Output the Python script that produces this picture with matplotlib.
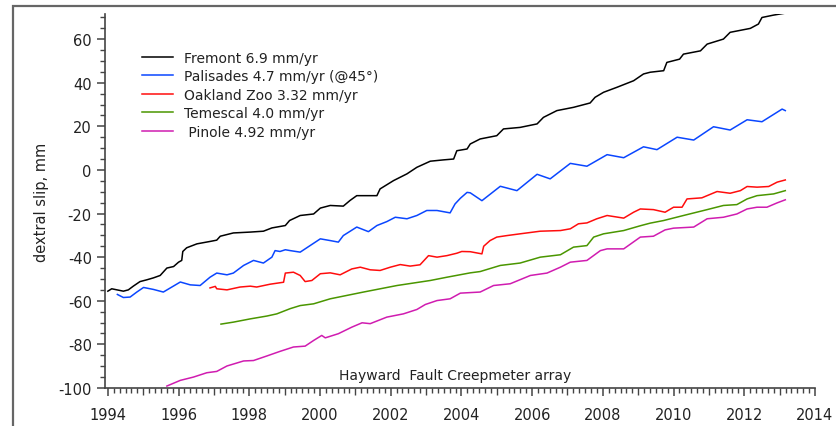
# Hayward Fault creepmeter array - dextral slip vs time
# Values

import numpy as np
import matplotlib.pyplot as plt
from matplotlib.ticker import MultipleLocator
from matplotlib.patches import Rectangle

plt.rcParams['axes.unicode_minus'] = False

# Fremont 6.9 mm/yr
fremont_t = [1994.0, 1994.11, 1994.44, 1994.58, 1994.72, 1994.91, 1995.10, 1995.29,
             1995.48, 1995.67, 1995.86, 1996.0, 1996.09, 1996.12, 1996.23, 1996.52,
             1996.89, 1997.08, 1997.18, 1997.55, 1998.03, 1998.40, 1998.64, 1999.02,
             1999.14, 1999.44, 1999.82, 2000.01, 2000.29, 2000.66, 2000.85, 2001.04,
             2001.61, 2001.70, 2002.08, 2002.46, 2002.74, 2003.12, 2003.49, 2003.78,
             2003.87, 2004.16, 2004.25, 2004.53, 2005.0, 2005.19, 2005.66, 2006.14,
             2006.32, 2006.70, 2007.17, 2007.64, 2007.78, 2008.02, 2008.40, 2008.87,
             2009.15, 2009.34, 2009.72, 2009.81, 2010.17, 2010.28, 2010.76, 2010.95,
             2011.41, 2011.60, 2012.17, 2012.40, 2012.50, 2012.83, 2013.16]
fremont_v = [-55.6, -54.5, -55.6, -55.0, -53.3, -51.2, -50.4, -49.5,
             -48.4, -45.0, -44.3, -42.3, -41.5, -37.4, -35.7, -33.9,
             -32.8, -32.2, -30.4, -28.9, -28.5, -28.1, -26.6, -25.5,
             -23.2, -20.9, -20.2, -17.5, -16.3, -16.6, -14.0, -11.8,
             -11.8, -8.7, -4.9, -1.8, 1.2, 4.0, 4.6, 5.0,
             8.8, 9.6, 11.9, 14.2, 15.7, 18.8, 19.5, 21.1,
             24.1, 27.2, 28.7, 30.7, 33.3, 35.6, 37.9, 40.9,
             44.0, 44.8, 45.5, 49.3, 50.8, 53.1, 54.6, 57.7,
             60.0, 63.1, 64.9, 66.9, 69.9, 71.0, 71.9]

# Palisades 4.7 mm/yr (@45 deg)
palisades_t = [1994.27, 1994.44, 1994.63, 1994.82, 1995.01, 1995.29, 1995.57, 1995.81,
               1996.05, 1996.33, 1996.61, 1996.89, 1997.08, 1997.37, 1997.55, 1997.84,
               1998.12, 1998.40, 1998.64, 1998.73, 1998.87, 1999.02, 1999.16, 1999.44,
               1999.72, 2000.01, 2000.29, 2000.52, 2000.66, 2001.04, 2001.37, 2001.61,
               2001.89, 2002.13, 2002.46, 2002.74, 2003.02, 2003.31, 2003.68, 2003.82,
               2003.97, 2004.16, 2004.25, 2004.58, 2005.10, 2005.57, 2006.14, 2006.51,
               2007.08, 2007.55, 2008.12, 2008.59, 2009.15, 2009.53, 2010.10, 2010.57,
               2011.13, 2011.60, 2012.08, 2012.50, 2013.07, 2013.16]
palisades_v = [-57.1, -58.5, -58.3, -56.0, -53.9, -54.8, -56.0, -53.7,
               -51.4, -52.7, -53.0, -49.2, -47.3, -48.1, -47.3, -43.8,
               -41.5, -42.7, -40.0, -37.0, -37.4, -36.6, -37.0, -37.7,
               -34.7, -31.6, -32.4, -33.1, -30.1, -26.2, -28.3, -25.5,
               -23.7, -21.7, -22.4, -20.9, -18.6, -18.6, -19.7, -15.6,
               -13.0, -10.3, -10.5, -14.1, -7.5, -9.5, -2.0, -4.1,
               3.0, 1.7, 7.0, 5.6, 10.6, 9.3, 15.0, 13.7,
               19.8, 18.3, 23.0, 22.1, 27.9, 27.2]

# Oakland Zoo 3.32 mm/yr
zoo_t = [1996.89, 1997.04, 1997.08, 1997.37, 1997.74, 1998.03, 1998.21, 1998.59,
         1998.97, 1999.02, 1999.25, 1999.44, 1999.58, 1999.77, 2000.01, 2000.29,
         2000.57, 2000.90, 2001.14, 2001.42, 2001.70, 2001.99, 2002.27, 2002.55,
         2002.83, 2003.07, 2003.31, 2003.59, 2003.87, 2004.01, 2004.25, 2004.58,
         2004.63, 2004.81, 2005.0, 2005.29, 2005.66, 2006.23, 2006.80, 2007.08,
         2007.31, 2007.55, 2007.83, 2008.12, 2008.59, 2008.87, 2009.06, 2009.43,
         2009.76, 2010.0, 2010.24, 2010.38, 2010.80, 2011.23, 2011.60, 2011.89,
         2012.08, 2012.36, 2012.69, 2012.93, 2013.16]
zoo_v = [-54.1, -53.4, -54.5, -55.0, -53.7, -53.3, -53.7, -52.4,
         -51.5, -47.3, -46.9, -48.4, -51.2, -50.7, -47.6, -47.2,
         -48.1, -45.4, -44.6, -45.8, -46.1, -44.6, -43.4, -44.1,
         -43.5, -39.3, -40.0, -39.3, -38.2, -37.4, -37.5, -38.5,
         -35.0, -32.4, -30.8, -30.1, -29.3, -28.1, -27.8, -27.0,
         -24.7, -24.3, -22.4, -20.9, -22.1, -19.4, -17.9, -18.2,
         -19.4, -17.1, -17.1, -13.3, -12.8, -9.9, -10.7, -9.5,
         -7.6, -7.9, -7.6, -5.6, -4.6]

# Temescal 4.0 mm/yr
temescal_t = [1997.20, 1997.55, 1998.03, 1998.50, 1998.78, 1999.16, 1999.44, 1999.82,
              2000.29, 2001.23, 2002.18, 2003.12, 2003.59, 2004.25, 2004.53, 2005.10,
              2005.66, 2006.23, 2006.80, 2007.17, 2007.55, 2007.74, 2008.02, 2008.59,
              2009.06, 2009.34, 2009.72, 2010.28, 2010.95, 2011.41, 2011.79, 2012.08,
              2012.36, 2012.83, 2013.16]
temescal_v = [-70.7, -69.8, -68.3, -67.0, -66.0, -63.6, -62.2, -61.4,
              -59.1, -56.0, -53.0, -50.7, -49.2, -47.2, -46.6, -43.8,
              -42.7, -40.0, -38.9, -35.4, -34.7, -30.8, -29.3, -27.8,
              -25.6, -24.4, -23.2, -20.9, -18.2, -16.3, -15.9, -13.3,
              -11.8, -11.0, -9.5]

# Pinole 4.92 mm/yr
pinole_t = [1995.67, 1996.05, 1996.42, 1996.80, 1997.08, 1997.37, 1997.84, 1998.12,
            1998.50, 1998.87, 1999.25, 1999.58, 1999.82, 2000.05, 2000.15, 2000.52,
            2000.90, 2001.19, 2001.42, 2001.89, 2002.36, 2002.74, 2002.98, 2003.31,
            2003.68, 2003.97, 2004.53, 2004.91, 2005.38, 2005.95, 2006.42, 2006.80,
            2007.08, 2007.55, 2007.93, 2008.12, 2008.59, 2009.06, 2009.43, 2009.76,
            2010.0, 2010.57, 2010.95, 2011.41, 2011.79, 2012.08, 2012.36, 2012.64,
            2012.93, 2013.16]
pinole_v = [-99.1, -96.5, -95.0, -93.0, -92.4, -89.9, -87.6, -87.4,
            -85.3, -83.2, -81.2, -80.8, -78.2, -75.9, -77.0, -75.1,
            -72.1, -70.1, -70.5, -67.5, -66.0, -64.0, -61.7, -59.9,
            -59.1, -56.5, -56.0, -53.0, -52.2, -48.4, -47.3, -44.6,
            -42.3, -41.5, -37.0, -36.2, -36.2, -30.8, -30.4, -27.5,
            -26.7, -26.2, -22.4, -21.7, -20.2, -17.9, -17.1, -17.1,
            -15.1, -13.7]

labels = ['Fremont 6.9 mm/yr', 'Palisades 4.7 mm/yr (@45\u00b0)', 'Oakland Zoo 3.32 mm/yr',
          'Temescal 4.0 mm/yr', ' Pinole 4.92 mm/yr']
colors = ['black', '#0a46ff', '#ff0d0d', '#4a9600', '#d01cb0']

fig = plt.figure(figsize=(8.37, 4.27), dpi=100)
ax = fig.add_axes([105/837, 38/427, 710/837, 374/427])

series = [(fremont_t, fremont_v), (palisades_t, palisades_v), (zoo_t, zoo_v),
          (temescal_t, temescal_v), (pinole_t, pinole_v)]
for (t, v), lab, c in zip(series, labels, colors):
    ax.plot(t, v, color=c, lw=1.1, label=lab)

ax.set_xlim(1993.92, 2014)
ax.set_ylim(-100, 71.5)

ax.xaxis.set_major_locator(MultipleLocator(2))
ax.xaxis.set_minor_locator(MultipleLocator(1/6))
ax.yaxis.set_major_locator(MultipleLocator(20))
ax.yaxis.set_minor_locator(MultipleLocator(5))

for s in ['top', 'right']:
    ax.spines[s].set_visible(False)
for s in ['left', 'bottom']:
    ax.spines[s].set_color('#444444')
    ax.spines[s].set_linewidth(1.2)

ax.tick_params(which='major', length=6, width=1.1, color='#444444', labelsize=10.5,
               labelcolor='#222222')
ax.tick_params(which='minor', length=3.5, width=1.0, color='#444444')
ax.tick_params(axis='x', which='major', pad=8)

# medium ticks at odd years
fig.canvas.draw()
mlocs = ax.xaxis.get_minorticklocs()
for loc, tk in zip(mlocs, ax.xaxis.get_minor_ticks(len(mlocs))):
    if abs(loc - round(loc)) < 1e-6:
        tk.tick1line.set_markersize(5)

ax.set_ylabel('dextral slip, mm', fontsize=10.5, color='#222222', labelpad=7)

ax.text(0.493, 0.035, 'Hayward  Fault Creepmeter array', transform=ax.transAxes,
        ha='center', va='center', fontsize=10, color='#222222')

leg = ax.legend(loc='upper left', bbox_to_anchor=(0.035, 0.935), frameon=False,
                fontsize=10, handlelength=2.2, handletextpad=0.8, labelspacing=0.32)
for txt in leg.get_texts():
    txt.set_color('#222222')

# frame around the figure (runs off right and bottom edges)
fig.patches.append(Rectangle((13/837, -0.1), 1.5, 1 - 7/427 + 0.1, transform=fig.transFigure,
                             fill=False, edgecolor='#666666', lw=1.6))

plt.savefig('out.png', dpi=100)
